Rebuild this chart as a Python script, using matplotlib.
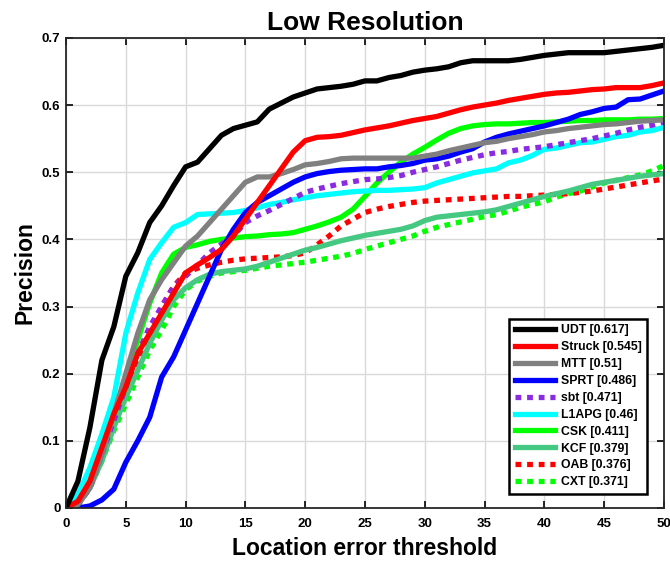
import matplotlib

matplotlib.use("Agg")
import matplotlib.pyplot as plt  # noqa: E402
import numpy as np  # noqa: E402

# location error thresholds 0..50
thresholds = np.arange(0, 51)

udt = [0.0, 0.04, 0.12, 0.22, 0.27, 0.345, 0.38, 0.425, 0.45, 0.48, 0.508,
       0.515, 0.535, 0.555, 0.565, 0.57, 0.575, 0.594, 0.603, 0.612, 0.618,
       0.624, 0.626, 0.628, 0.631, 0.636, 0.636, 0.641, 0.644, 0.649, 0.652,
       0.654, 0.657, 0.663, 0.666, 0.666, 0.666, 0.666, 0.668, 0.671, 0.674,
       0.676, 0.678, 0.678, 0.678, 0.678, 0.68, 0.682, 0.684, 0.686, 0.689]
struck = [0.0, 0.01, 0.04, 0.09, 0.14, 0.18, 0.23, 0.26, 0.29, 0.32, 0.35,
          0.362, 0.373, 0.385, 0.405, 0.43, 0.455, 0.48, 0.505, 0.53, 0.547,
          0.552, 0.553, 0.555, 0.559, 0.563, 0.566, 0.569, 0.573, 0.577, 0.58,
          0.583, 0.588, 0.593, 0.597, 0.6, 0.603, 0.607, 0.61, 0.613, 0.616,
          0.618, 0.619, 0.621, 0.623, 0.624, 0.626, 0.626, 0.626, 0.629, 0.633]
mtt = [0.0, 0.005, 0.03, 0.08, 0.14, 0.2, 0.26, 0.31, 0.34, 0.365, 0.39,
       0.405, 0.425, 0.445, 0.465, 0.485, 0.493, 0.493, 0.498, 0.504, 0.511,
       0.513, 0.516, 0.52, 0.521, 0.521, 0.521, 0.521, 0.521, 0.521, 0.524,
       0.527, 0.532, 0.536, 0.54, 0.544, 0.546, 0.55, 0.553, 0.556, 0.56,
       0.562, 0.565, 0.567, 0.569, 0.571, 0.572, 0.574, 0.576, 0.577, 0.578]
sprt = [0.0, 0.0, 0.003, 0.012, 0.028, 0.068, 0.1, 0.135, 0.195, 0.225, 0.265,
        0.305, 0.345, 0.385, 0.415, 0.44, 0.455, 0.465, 0.475, 0.485, 0.493,
        0.498, 0.501, 0.503, 0.504, 0.505, 0.505, 0.508, 0.51, 0.513, 0.518,
        0.52, 0.524, 0.53, 0.535, 0.545, 0.552, 0.557, 0.561, 0.565, 0.569,
        0.574, 0.579, 0.586, 0.59, 0.595, 0.597, 0.608, 0.609, 0.615, 0.621]
sbt = [0.0, 0.005, 0.03, 0.08, 0.13, 0.18, 0.23, 0.27, 0.3, 0.33, 0.345,
       0.362, 0.38, 0.393, 0.405, 0.425, 0.435, 0.443, 0.452, 0.461, 0.47,
       0.475, 0.479, 0.483, 0.486, 0.489, 0.49, 0.492, 0.495, 0.5, 0.504,
       0.508, 0.513, 0.518, 0.522, 0.526, 0.529, 0.531, 0.534, 0.536, 0.538,
       0.541, 0.544, 0.547, 0.55, 0.554, 0.558, 0.563, 0.567, 0.57, 0.575]
l1apg = [0.0, 0.02, 0.06, 0.11, 0.165, 0.26, 0.32, 0.37, 0.395, 0.418, 0.425,
         0.437, 0.438, 0.439, 0.44, 0.443, 0.447, 0.452, 0.455, 0.459, 0.462,
         0.465, 0.467, 0.469, 0.471, 0.472, 0.473, 0.473, 0.474, 0.475, 0.477,
         0.484, 0.489, 0.494, 0.499, 0.502, 0.505, 0.514, 0.518, 0.525, 0.534,
         0.536, 0.54, 0.544, 0.545, 0.549, 0.553, 0.555, 0.56, 0.562, 0.567]
csk = [0.0, 0.01, 0.04, 0.09, 0.14, 0.19, 0.25, 0.305, 0.35, 0.378, 0.388,
       0.392, 0.397, 0.4, 0.402, 0.404, 0.405, 0.407, 0.408, 0.41, 0.415,
       0.42, 0.426, 0.433, 0.445, 0.464, 0.484, 0.5, 0.515, 0.527, 0.537,
       0.548, 0.558, 0.565, 0.569, 0.571, 0.572, 0.572, 0.573, 0.574, 0.574,
       0.575, 0.576, 0.577, 0.577, 0.578, 0.578, 0.578, 0.579, 0.579, 0.58]
kcf = [0.0, 0.005, 0.03, 0.07, 0.12, 0.165, 0.205, 0.245, 0.28, 0.31, 0.328,
       0.34, 0.348, 0.352, 0.354, 0.356, 0.36, 0.366, 0.372, 0.378, 0.384,
       0.388, 0.393, 0.398, 0.402, 0.406, 0.409, 0.412, 0.415, 0.42, 0.428,
       0.433, 0.435, 0.437, 0.439, 0.441, 0.444, 0.449, 0.454, 0.459, 0.464,
       0.468, 0.472, 0.477, 0.482, 0.485, 0.488, 0.491, 0.494, 0.496, 0.498]
oab = [0.0, 0.005, 0.03, 0.08, 0.13, 0.175, 0.22, 0.26, 0.3, 0.33, 0.35,
       0.357, 0.362, 0.366, 0.369, 0.371, 0.372, 0.373, 0.374, 0.376, 0.38,
       0.392, 0.405, 0.42, 0.43, 0.44, 0.445, 0.449, 0.452, 0.455, 0.457,
       0.458, 0.459, 0.46, 0.461, 0.462, 0.463, 0.464, 0.464, 0.465, 0.466,
       0.467, 0.468, 0.47, 0.472, 0.475, 0.478, 0.481, 0.484, 0.487, 0.49]
cxt = [0.0, 0.005, 0.03, 0.07, 0.115, 0.155, 0.195, 0.235, 0.265, 0.3, 0.325,
       0.338, 0.345, 0.35, 0.352, 0.354, 0.357, 0.36, 0.362, 0.364, 0.366,
       0.369, 0.372, 0.375, 0.379, 0.385, 0.39, 0.395, 0.4, 0.405, 0.412,
       0.418, 0.422, 0.426, 0.43, 0.434, 0.437, 0.442, 0.448, 0.452, 0.456,
       0.463, 0.468, 0.472, 0.478, 0.484, 0.488, 0.492, 0.496, 0.502, 0.51]

labels = ["UDT [0.617]", "Struck [0.545]", "MTT [0.51]", "SPRT [0.486]",
          "sbt [0.471]", "L1APG [0.46]", "CSK [0.411]", "KCF [0.379]",
          "OAB [0.376]", "CXT [0.371]"]
series = [udt, struck, mtt, sprt, sbt, l1apg, csk, kcf, oab, cxt]
colors = ["black", "#ff0000", "#808080", "#0000ff", "#8a2be2", "#00ffff",
          "#00ff00", "#45c882", "#ff0000", "#00ff00"]
dotted = [False, False, False, False, True, False, False, False, True, True]

plt.rcParams["font.family"] = ["Liberation Sans", "DejaVu Sans"]
plt.rcParams["font.weight"] = "bold"

fig = plt.figure(figsize=(6.7, 5.66), dpi=100)
ax = fig.add_axes([0.0985, 0.1025, 0.8925, 0.8305])

# draw in reverse so UDT ends up on top
for y, lab, c, d in reversed(list(zip(series, labels, colors, dotted))):
    if d:
        ax.plot(thresholds, y, color=c, lw=3.8, ls=(0, (1.1, 1.1)),
                dash_capstyle="butt", label=lab)
    else:
        ax.plot(thresholds, y, color=c, lw=3.8, label=lab,
                solid_joinstyle="round")

ax.set_xlim(0, 50)
ax.set_ylim(0, 0.7)
ax.set_xticks(np.arange(0, 51, 5))
ax.set_yticks(np.arange(0, 0.71, 0.1))
ax.set_yticklabels(["0", "0.1", "0.2", "0.3", "0.4", "0.5", "0.6", "0.7"])
ax.grid(True, color="#d9d9d9", lw=1.0)
ax.set_axisbelow(True)
ax.tick_params(direction="in", top=True, right=True, labelsize=9.5,
               length=5, width=1.2)
ax.tick_params(axis="x", pad=7)
ax.tick_params(axis="y", pad=4)
for s in ax.spines.values():
    s.set_linewidth(1.3)
    s.set_color("#262626")

ax.set_title("Low Resolution", fontsize=19, fontweight="bold", pad=6)
ax.set_xlabel("Location error threshold", fontsize=16.5, fontweight="bold",
              labelpad=5)
ax.set_ylabel("Precision", fontsize=16.5, fontweight="bold", labelpad=4)

handles, labs = ax.get_legend_handles_labels()
order = [labs.index(l) for l in labels]
leg = ax.legend([handles[i] for i in order], labels, loc="lower right",
                fontsize=8.8, handlelength=3.3, handletextpad=0.45,
                labelspacing=0.4, borderpad=0.45, fancybox=False,
                framealpha=1, edgecolor="black", bbox_to_anchor=(0.982, 0.017))
leg.get_frame().set_linewidth(1.8)

fig.savefig("out.png", dpi=100)
